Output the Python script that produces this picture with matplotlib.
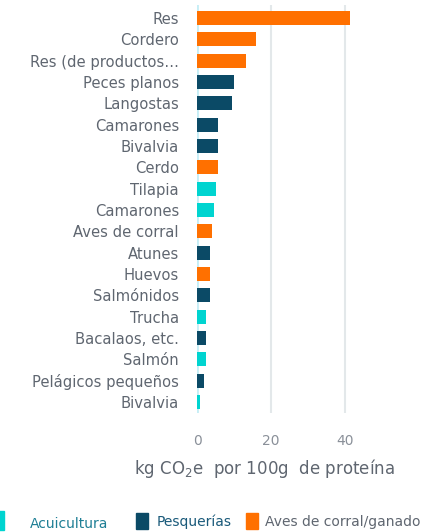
import matplotlib
matplotlib.use("Agg")
import matplotlib.pyplot as plt
from matplotlib.patches import Rectangle

# datos
categorias = ["Res", "Cordero", "Res (de productos…", "Peces planos", "Langostas",
              "Camarones", "Bivalvia", "Cerdo", "Tilapia", "Camarones",
              "Aves de corral", "Atunes", "Huevos", "Salmónidos", "Trucha",
              "Bacalaos, etc.", "Salmón", "Pelágicos pequeños", "Bivalvia"]
valores = [41.3, 15.9, 13.2, 10.0, 9.4, 5.7, 5.7, 5.7, 5.1, 4.6,
           4.1, 3.5, 3.5, 3.5, 2.4, 2.4, 2.4, 1.9, 0.8]
grupos = ["G", "G", "G", "P", "P", "P", "P", "G", "A", "A",
          "G", "P", "G", "P", "A", "P", "A", "P", "A"]
ticks_x = [0, 20, 40]

colores = {"A": "#00d4d0", "P": "#0b4a66", "G": "#ff7000"}
nombres = {"A": "Acuicultura", "P": "Pesquerías", "G": "Aves de corral/ganado"}

plt.rcParams['font.family'] = ['DejaVu Sans']
gris = "#5f6670"

fig = plt.figure(figsize=(4.25, 5.32), dpi=100)
ax = fig.add_axes([197/425, 1 - 413/532, (419-197)/425, (413-5)/532])

y = list(range(len(categorias)))
ax.barh(y, valores, height=0.66, color=[colores[g] for g in grupos], zorder=3)
ax.set_ylim(len(categorias) - 1 + 0.52, -0.61)
ax.set_xlim(0, 60)
ax.set_yticks(y)
ax.set_yticklabels(categorias, fontsize=10.6, color=gris)
ax.set_xticks(ticks_x)
ax.set_xticklabels([str(t) for t in ticks_x], fontsize=10, color="#8a9099")
ax.tick_params(axis='y', length=0, pad=13)
ax.tick_params(axis='x', length=0, pad=15)
ax.grid(axis='x', color="#e3e8ea", linewidth=1.5, zorder=0)
for s in ax.spines.values():
    s.set_visible(False)
ax.axvline(0, color="#c6eef6", linewidth=2, zorder=2)

fig.text(264/425, 1 - 469/532, "kg CO$_2$e  por 100g  de proteína",
         ha='center', va='center', fontsize=12, color=gris)

# leyenda
items = [("A", -8, 511, 19, 30, 524, "#1e7f95"),
         ("P", 136, 513, 16, 157, 522, "#1a5a7a"),
         ("G", 246, 513, 16, 265, 522, gris)]
for g, mx, my, mh, tx, ty, tc in items:
    fig.patches.append(Rectangle((mx/425, 1 - (my+mh)/532), 12/425, mh/532,
                                 transform=fig.transFigure, color=colores[g]))
    fig.text(tx/425, 1 - ty/532, nombres[g], ha='left', va='center',
             fontsize=10, color=tc)

fig.savefig("out.png", dpi=100)
